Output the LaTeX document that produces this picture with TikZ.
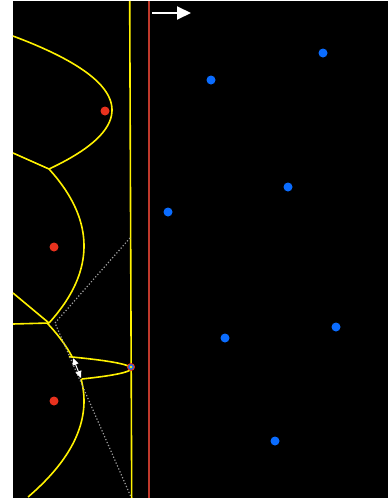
\documentclass[tikz,border=0pt]{standalone}
\usepackage{tikz}
\usepackage{xcolor}
\usetikzlibrary{arrows.meta,calc}
\definecolor{SB}{HTML}{0A6CFF}
\definecolor{SR}{HTML}{E8321E}
\definecolor{SW}{HTML}{C0392B}
\definecolor{BY}{HTML}{FFF200}

\begin{document}
\begin{tikzpicture}[x=1pt,y=-1pt]
        \useasboundingbox (0,0) rectangle (388,498);
        \fill[white] (0,0) rectangle (388,498);
        \fill[black] (13,1) rectangle (388,498);
        % vertices of the diagram
        \coordinate (v1) at (49,169);
        \coordinate (v2) at (49,323);
        \coordinate (e1) at (13,153);
        \coordinate (e2) at (13,293);
        \coordinate (e3) at (13,324);
        \coordinate (s) at (131,367);
        % beach line arcs
        \draw[BY, line width=1.6pt]
          plot[domain=36:169, samples=60] ({112-0.0181*(\x-110)^2},\x);
        \draw[BY, line width=1.6pt]
          plot[domain=169:323, samples=60] ({84-0.0059*(\x-246)^2},\x);
        \draw[BY, line width=1.6pt]
          plot[domain=323:357, samples=20] ({84-0.00608*(\x-401)^2},\x);
        \draw[BY, line width=1.6pt]
          plot[domain=379:497, samples=40] ({84-0.00608*(\x-401)^2},\x);
        \draw[BY, line width=1.6pt]
          plot[domain=356.7:379, samples=40] ({131-0.446*(\x-368.5)^2},\x);
        \draw[BY, line width=1.6pt] (129.7,1) -- (131.7,498);
        % voronoi edges
        \draw[BY, line width=1.6pt] (e1) -- (v1);
        \draw[BY, line width=1.6pt] (e2) -- (v2);
        \draw[BY, line width=1.6pt] (e3) -- (v2);
        % circle event
        \coordinate (c1) at (130,238);
        \coordinate (c2) at (55,323);
        \coordinate (c3) at (131,497);
        \draw[gray!75, line width=1.2pt, dotted] (c1) -- (c2) -- (c3);
        % sweep line
        \draw[SW, line width=2.2pt] (149.3,1) -- (149.3,498);
        \coordinate (a0) at (152,13);
        \coordinate (a1) at (191,13);
        \draw[white, line width=2pt, -{Triangle[length=14pt,width=13pt]}]
          (a0) -- (a1);
        \coordinate (b0) at (73,358);
        \coordinate (b1) at (81,378);
        \draw[white, line width=1pt,
          {Triangle[length=7pt,width=6pt]}-{Triangle[length=7pt,width=6pt]}]
          (b0) -- (b1);
        % sites
        \foreach \p in {(211,80),(323,53),(288,187),(168,212),(225,338),(336,327),(275,441)}
          \fill[SB] \p circle[radius=4.5pt];
        \foreach \p in {(105,111),(54,247),(54,401)}
          \fill[SR] \p circle[radius=4.5pt];
        \fill[SR] (s) circle[radius=4pt];
        \fill[SB] (s) circle[radius=2.8pt];
        \fill[BY] (s) circle[radius=1.3pt];
      \end{tikzpicture}
\end{document}
